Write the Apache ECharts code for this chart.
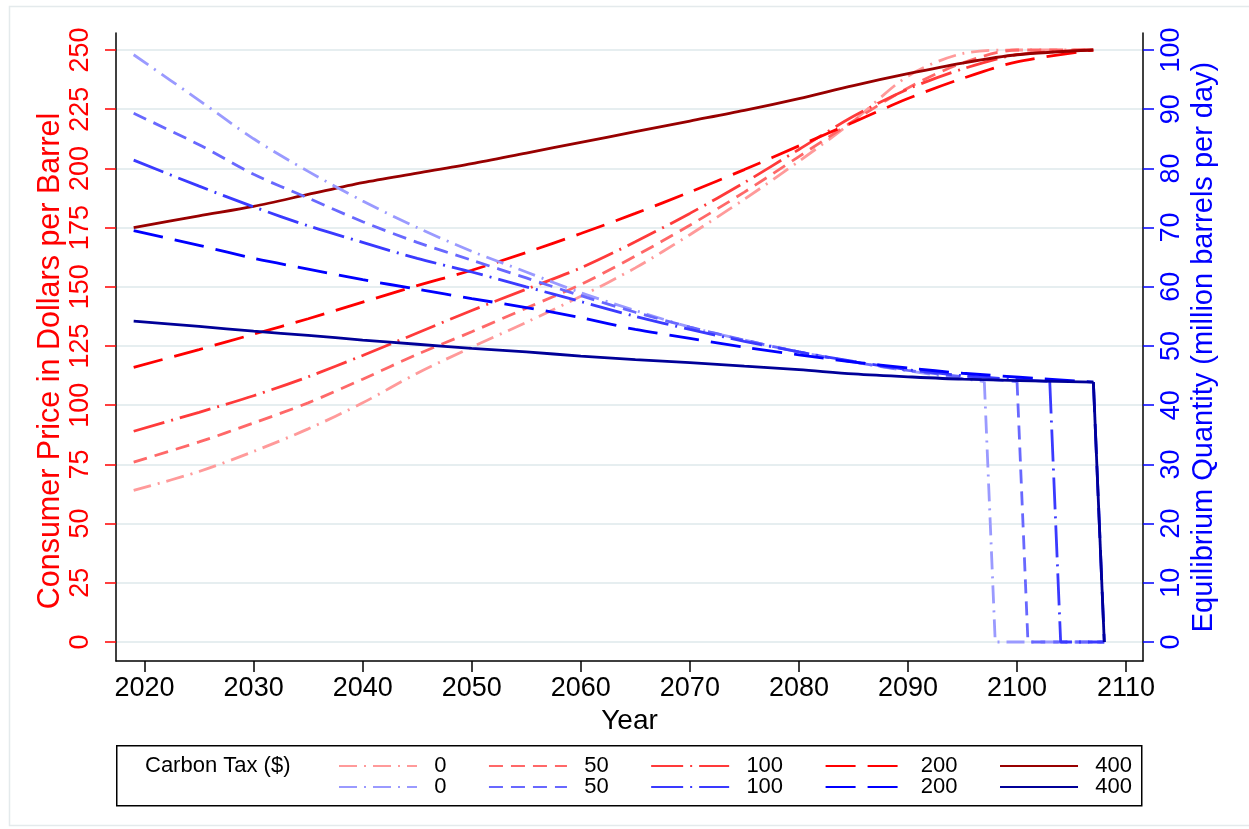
<!DOCTYPE html>
<html>
<head>
<meta charset="utf-8">
<script src="https://cdn.jsdelivr.net/npm/echarts@6/dist/echarts.min.js"></script>
<style>
html,body{margin:0;padding:0;background:#fff;}
#chart{width:1249px;height:829px;}
</style>
</head>
<body>
<div id="chart"></div>
<script>
// ---- data ----
const taxLabels = ['0', '50', '100', '200', '400'];

const priceYears = [2019, 2025, 2030, 2035, 2040, 2045, 2050, 2055, 2060, 2065, 2070, 2075, 2080, 2085, 2090, 2095, 2100, 2107];
const price0   = [64, 72, 80.5, 90, 101, 113.5, 124.5, 135, 146, 158, 172, 187, 203, 220, 239, 248.5, 250, 250];
const price50  = [76, 84.5, 92.5, 101, 111, 121.5, 131, 141, 151, 163, 176, 190, 205, 220, 234, 244.5, 250, 250];
const price100 = [89, 97, 104, 112, 121, 130.5, 140, 149, 158, 169, 181, 194, 208, 222, 233.5, 242, 248, 250];
const price200 = [116, 123.5, 130, 136.5, 143.5, 150.5, 157, 164.5, 172.5, 181, 190, 199.5, 209.5, 219.5, 229.5, 238, 245, 250];
const price400 = [175, 180, 184, 189, 194, 198, 202, 206.5, 211, 215.5, 220, 224.5, 229.5, 235, 240, 244.5, 248, 250];

const quantityYears = [2019, 2025, 2030, 2035, 2040, 2045, 2050, 2055, 2060, 2065, 2070, 2075, 2080, 2085, 2090, 2095];
const quantity0   = [99.2, 91.5, 85, 79.5, 74.5, 70, 66, 62.5, 59, 56, 53.2, 51, 49, 47.3, 45.8, 44.5];
const quantity50  = [89.3, 84, 79, 75, 71, 67.5, 64.5, 61.5, 58.5, 55.7, 53.2, 51, 49, 47.3, 45.9, 44.8];
const quantity100 = [81.4, 77, 73.5, 70.3, 67.5, 64.8, 62.5, 60, 57.5, 55, 52.8, 50.8, 49, 47.4, 46, 45];
const quantity200 = [69.5, 67, 64.8, 63, 61.2, 59.6, 58, 56.5, 54.8, 52.8, 51.3, 49.8, 48.5, 47.3, 46.3, 45.4];
const quantity400 = [54.2, 53.3, 52.5, 51.8, 51, 50.3, 49.6, 49, 48.3, 47.7, 47.2, 46.6, 46, 45.3, 44.8, 44.4];

// last producing year, its quantity, and the year after which output is zero
const exhaustYears  = [2097, 2100, 2103, 2107, 2107];
const exhaustLevels = [44.0, 44.0, 44.0, 43.9, 43.9];
const zeroYears     = [2098, 2101, 2104, 2108, 2108];
const endYear = 2108;

const xTicks = [2020, 2030, 2040, 2050, 2060, 2070, 2080, 2090, 2100, 2110];
const priceTicks = [0, 25, 50, 75, 100, 125, 150, 175, 200, 225, 250];
const quantityTicks = [0, 10, 20, 30, 40, 50, 60, 70, 80, 90, 100];

// ---- styles ----
const redColors  = ['#ff9a9a', '#ff6868', '#ff3a3a', '#ff0000', '#980000'];
const blueColors = ['#9a9aff', '#6868ff', '#3a3aff', '#0000ff', '#000098'];
const dashes = [[18, 7, 2, 7], [14, 8], [32, 7, 2, 7], [30, 12], 'solid'];

const prices = [price0, price50, price100, price200, price400];
const quantities = [quantity0, quantity50, quantity100, quantity200, quantity400];

const FONT = '"Liberation Sans", Arial, Helvetica, sans-serif';
const LW = 2.8;

const series = [];
prices.forEach((vals, i) => {
  series.push({
    name: 'P' + taxLabels[i],
    type: 'line',
    yAxisIndex: 0,
    data: priceYears.map((y, k) => [y, vals[k]]),
    smooth: 0.3,
    symbol: 'none',
    showSymbol: false,
    lineStyle: { color: redColors[i], width: LW, type: dashes[i] },
    itemStyle: { color: redColors[i] },
    z: 3
  });
});
quantities.forEach((vals, i) => {
  const main = quantityYears.map((y, k) => [y, vals[k]]);
  main.push([exhaustYears[i], exhaustLevels[i]]);
  series.push({
    name: 'Q' + taxLabels[i],
    type: 'line',
    yAxisIndex: 1,
    data: main,
    smooth: 0.3,
    symbol: 'none',
    showSymbol: false,
    lineStyle: { color: blueColors[i], width: LW, type: dashes[i] },
    itemStyle: { color: blueColors[i] },
    z: 3
  });
  series.push({
    name: 'Qtail' + taxLabels[i],
    type: 'line',
    yAxisIndex: 1,
    data: [[exhaustYears[i], exhaustLevels[i]], [zeroYears[i], 0], [endYear, 0]],
    smooth: false,
    symbol: 'none',
    showSymbol: false,
    lineStyle: { color: blueColors[i], width: LW, type: dashes[i] },
    itemStyle: { color: blueColors[i] },
    z: 3
  });
});

const legendBase = {
  orient: 'horizontal',
  left: 338,
  padding: 0,
  itemWidth: 78,
  itemHeight: 14,
  itemGap: 41.5,
  formatter: n => '  ' + n.slice(1),
  textStyle: { fontFamily: FONT, fontSize: 22, color: '#000' },
  itemStyle: { opacity: 0 },
  selectedMode: false
};
const legends = [
  Object.assign({}, legendBase, { top: 755, data: taxLabels.map(t => 'P' + t) }),
  Object.assign({}, legendBase, { top: 776, data: taxLabels.map(t => 'Q' + t) })
];

const chart = echarts.init(document.getElementById('chart'), null, { renderer: 'canvas' });
chart.setOption({
  animation: false,
  backgroundColor: '#ffffff',
  textStyle: { fontFamily: FONT },
  grid: { left: 116, right: 106, top: 33, bottom: 168, containLabel: false },
  graphic: [
    { type: 'rect', left: 7, top: 4, shape: { width: 1260, height: 819 }, style: { fill: 'none', stroke: '#e4eaec', lineWidth: 1.5 }, z: -1, silent: true },
    { type: 'rect', left: 116, top: 745, shape: { width: 1025, height: 60 }, style: { fill: '#fff', stroke: '#000', lineWidth: 1.5 }, z: 0, silent: true },
    { type: 'text', left: 145, top: 755, style: { text: 'Carbon Tax ($)', font: '22px ' + FONT, fill: '#000' }, z: 5, silent: true }
  ],
  legend: legends,
  xAxis: {
    type: 'value',
    min: 2017.38,
    max: 2111.55,
    name: 'Year',
    nameLocation: 'middle',
    nameGap: 46,
    nameMoveOverlap: false,
    nameTextStyle: { color: '#000', fontSize: 28, fontFamily: FONT },
    axisLine: { show: true, onZero: false, lineStyle: { color: '#000', width: 1.5 } },
    axisTick: { show: true, length: 11, customValues: xTicks, lineStyle: { color: '#000', width: 1.5 } },
    axisLabel: { customValues: xTicks, formatter: v => String(Math.round(v)), color: '#000', fontSize: 27, margin: 14, fontFamily: FONT },
    splitLine: { show: false }
  },
  yAxis: [
    {
      type: 'value',
      position: 'left',
      min: -8.02,
      max: 257.18,
      name: 'Consumer Price in Dollars per Barrel',
      nameLocation: 'middle',
      nameGap: 50,
      nameMoveOverlap: false,
      nameTextStyle: { color: '#ff0000', fontSize: 30.5, fontFamily: FONT, padding: [0, 28, 0, 0] },
      axisLine: { show: true, onZero: false, lineStyle: { color: '#000', width: 1.5 } },
      axisTick: { show: true, length: 11, customValues: priceTicks, lineStyle: { color: '#ff0000', width: 1.5 } },
      axisLabel: { customValues: priceTicks, rotate: 90, color: '#ff0000', fontSize: 27, margin: 22, fontFamily: FONT },
      splitLine: { show: true, lineStyle: { color: '#e6eef0', width: 2 } }
    },
    {
      type: 'value',
      position: 'right',
      min: -3.208,
      max: 102.872,
      name: 'Equilibrium Quantity (million barrels per day)',
      nameLocation: 'middle',
      nameGap: 46,
      nameMoveOverlap: false,
      nameTextStyle: { color: '#0000ff', fontSize: 29, fontFamily: FONT },
      axisLine: { show: true, onZero: false, lineStyle: { color: '#000', width: 1.5 } },
      axisTick: { show: true, length: 11, customValues: quantityTicks, lineStyle: { color: '#0000ff', width: 1.5 } },
      axisLabel: { customValues: quantityTicks, rotate: 90, color: '#0000ff', fontSize: 27, margin: 15, fontFamily: FONT },
      splitLine: { show: false }
    }
  ],
  series: series
});
</script>
</body>
</html>
